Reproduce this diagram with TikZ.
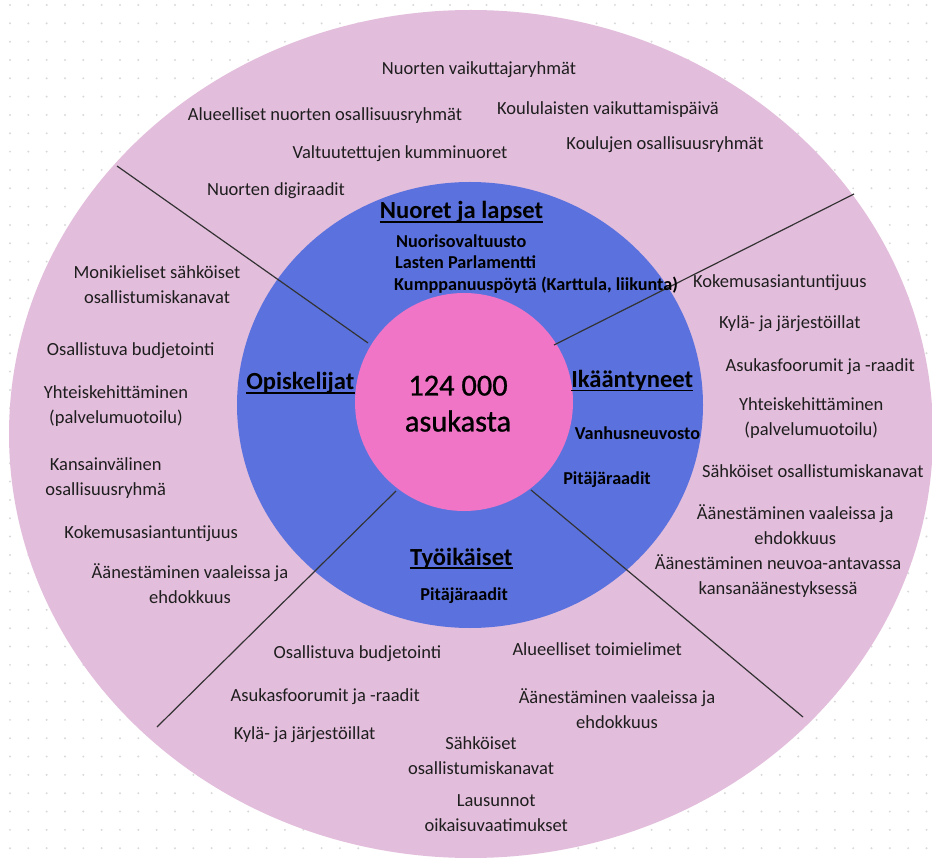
\documentclass[tikz,border=0pt]{standalone}
\usepackage{fontspec}
\setmainfont{Carlito}
\newfontfamily\ctrfont[FakeBold=0.9]{Carlito}
\definecolor{outerfill}{HTML}{E3BDDC}
\definecolor{bluefill}{HTML}{5B72DE}
\definecolor{pinkfill}{HTML}{F075C6}
\definecolor{dotcol}{HTML}{D9D9D9}
\definecolor{txt}{HTML}{1E1E1E}
\definecolor{sepline}{HTML}{333333}
\begin{document}
\begin{tikzpicture}[x=1pt,y=-1pt,
  outtxt/.style={font=\fontsize{18.5}{25}\selectfont, align=center, inner sep=0pt, text=txt,
    execute at begin node=\strut, execute at end node=\strut},
  intxt/.style={font=\bfseries\fontsize{18.2}{21.5}\selectfont, inner sep=0pt, text=black, anchor=base west},
  incent/.style={font=\bfseries\fontsize{18.2}{21.5}\selectfont, inner sep=0pt, text=black, anchor=base},
  ttl/.style={font=\bfseries\fontsize{24.6}{29}\selectfont, inner sep=0pt, text=black, anchor=base},
  uline/.style={line width=1.8pt, black},
  sep/.style={line width=1.2pt, sepline},
  ctr/.style={font=\ctrfont\fontsize{30.4}{36}\selectfont, align=center, inner sep=0pt, text=black,
    execute at begin node=\strut, execute at end node=\strut}
]
\useasboundingbox (0,0) rectangle (932,858);
\fill[white] (0,0) rectangle (932,858);
% dotted background
\foreach \i in {0,...,50}{
  \foreach \j in {0,...,46}{
    \fill[dotcol] (10+18.33*\i, 5+18.33*\j) circle[radius=1.1pt];
  }
}
% rings
\fill[outerfill] (471,434) ellipse[x radius=462pt, y radius=424pt];
\fill[bluefill] (470,405) ellipse[x radius=233pt, y radius=223pt];
\fill[pinkfill] (464,402) circle[radius=109pt];

% separator lines
\coordinate (a1) at (368,343); \coordinate (b1) at (117,166);
\coordinate (a2) at (554,345); \coordinate (b2) at (854,194);
\coordinate (a3) at (396,491); \coordinate (b3) at (157,727);
\coordinate (a4) at (531,490); \coordinate (b4) at (803,717);
\draw[sep] (a1) -- (b1);
\draw[sep] (a2) -- (b2);
\draw[sep] (a3) -- (b3);
\draw[sep] (a4) -- (b4);

% centre
\node[ctr] (c) at (458,409) {124 000\\asukasta};

% titles
\node[ttl] (n1) at (461.5,219) {Nuoret ja lapset};
\node[ttl] (n2) at (300.3,390) {Opiskelijat};
\node[ttl] (n3) at (632.2,387.7) {Ikääntyneet};
\node[ttl] (n4) at (461.3,565.5) {Työikäiset};
\foreach \n in {n1,n2,n3,n4}{
  \draw[uline] ([yshift=-2.8pt]\n.base west) -- ([yshift=-2.8pt]\n.base east);
}

% inner texts
\node[intxt] (i1) at (396,247.5) {Nuorisovaltuusto};
\node[intxt] (i2) at (395,269) {Lasten Parlamentti};
\node[intxt] (i3) at (394,290.5) {Kumppanuuspöytä (Karttula, liikunta)};
\node[incent] (i4) at (637.5,439) {Vanhusneuvosto};
\node[incent] (i5) at (607,484) {Pitäjäraadit};
\node[incent] (i6) at (464.2,600.5) {Pitäjäraadit};

% outer: top
\node[outtxt] (t1) at (479,69.5) {Nuorten vaikuttajaryhmät};
\node[outtxt] (t2) at (325,116) {Alueelliset nuorten osallisuusryhmät};
\node[outtxt] (t3) at (608,109.3) {Koululaisten vaikuttamispäivä};
\node[outtxt] (t4) at (400,154) {Valtuutettujen kumminuoret};
\node[outtxt] (t5) at (665,144.5) {Koulujen osallisuusryhmät};
\node[outtxt] (t6) at (276,190.7) {Nuorten digiraadit};

% outer: left
\node[outtxt] (l1) at (157,288.5) {Monikieliset sähköiset\\osallistumiskanavat};
\node[outtxt] (l2) at (130.7,351) {Osallistuva budjetointi};
\node[outtxt] (l3) at (116,408.2) {Yhteiskehittäminen\\(palvelumuotoilu)};
\node[outtxt] (l4) at (105.7,480.2) {Kansainvälinen\\osallisuusryhmä};
\node[outtxt] (l5) at (151.2,533.3) {Kokemusasiantuntijuus};
\node[outtxt] (l6) at (190,587.5) {Äänestäminen vaaleissa ja\\ehdokkuus};

% outer: bottom
\node[outtxt] (u1) at (357.5,653.3) {Osallistuva budjetointi};
\node[outtxt] (u2) at (325.3,696.7) {Asukasfoorumit ja -raadit};
\node[outtxt] (u3) at (304.7,734) {Kylä- ja järjestöillat};
\node[outtxt] (u4) at (481,759.3) {Sähköiset\\osallistumiskanavat};
\node[outtxt] (u5) at (496.2,816.6) {Lausunnot\\oikaisuvaatimukset};
\node[outtxt] (u6) at (597.2,650) {Alueelliset toimielimet};
\node[outtxt] (u7) at (617,712.5) {Äänestäminen vaaleissa ja\\ehdokkuus};

% outer: right
\node[outtxt] (r1) at (779.8,282.7) {Kokemusasiantuntijuus};
\node[outtxt] (r2) at (789.8,324) {Kylä- ja järjestöillat};
\node[outtxt] (r3) at (820.2,366.7) {Asukasfoorumit ja -raadit};
\node[outtxt] (r4) at (811.3,420.3) {Yhteiskehittäminen\\(palvelumuotoilu)};
\node[outtxt] (r5) at (812.8,472.7) {Sähköiset osallistumiskanavat};
\node[outtxt] (r6) at (795.2,528.8) {Äänestäminen vaaleissa ja\\ehdokkuus};
\node[outtxt] (r7) at (778.1,578.2) {Äänestäminen neuvoa-antavassa\\kansanäänestyksessä};
\end{tikzpicture}
\end{document}
